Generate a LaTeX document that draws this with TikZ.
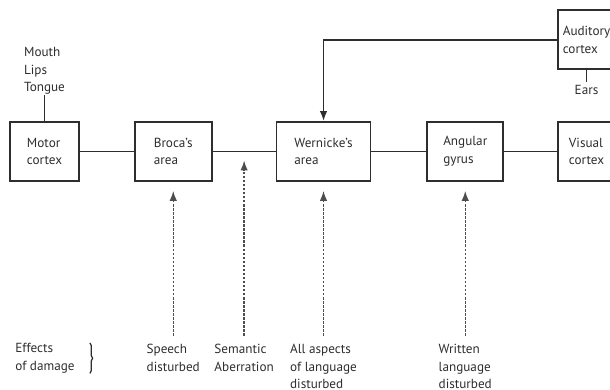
\documentclass[tikz,border=0pt]{standalone}
\usepackage{fontspec}
\setmainfont{PT Sans}
\usepackage{tikz}
\usetikzlibrary{arrows.meta,positioning,decorations.pathreplacing}
\definecolor{brainink}{HTML}{2E2E2E}

\begin{document}
\begin{tikzpicture}[font=\fontsize{7.5}{10}\selectfont, text=brainink,
    area/.style={draw=brainink, line width=1pt, fill=white,
        align=left, minimum height=1.18cm, inner sep=1pt},
    link/.style={draw=brainink, line width=1pt},
    hit/.style={draw=brainink!85, line width=0.8pt,
        dash pattern=on 1.4pt off 0.9pt,
        -{Latex[length=2mm,width=1.5mm]}},
    effect/.style={align=left, anchor=north, inner sep=0pt}]
    \useasboundingbox (0,0) rectangle (12.2,-7.8);
    \node[area, minimum width=1.38cm] (motor) at (0.89,-3.03) {Motor\\cortex};
    \node[area, minimum width=1.54cm, right=1.08cm of motor] (broca) {Broca's\\area};
    \node[area, minimum width=1.88cm, right=1.26cm of broca] (wern) {Wernicke's\\area};
    \node[area, minimum width=1.52cm, right=1.1cm of wern] (ang) {Angular\\gyrus};
    \node[area, minimum width=1.14cm, right=1.06cm of ang] (vis) {Visual\\cortex};
    \node[area, minimum width=1.14cm, above=1.02cm of vis] (aud) {Auditory\\cortex};

    \node[align=left, inner sep=0pt, above=0.52cm of motor] (mouth) {Mouth\\Lips\\Tongue};
    \node[inner sep=1.5pt, below=0.24cm of aud] (ears) {Ears};

    \draw[link] (mouth) -- (motor);
    \draw[link] (aud) -- (ears);
    \draw[link] (motor) -- (broca) -- (wern) -- (ang) -- (vis);
    \draw[link, -{Latex[length=2mm,width=1.5mm]}] (aud.west) -| (wern.north);

    \path (broca.east) -- coordinate[midway] (gap) (wern.west);

    \node[effect, anchor=north west] (dmg) at (0.3,-6.86) {Effects\\of damage};
    \node[effect, below=3.24cm of broca] (speech) {Speech\\disturbed};
    \node[effect] (sem) at (gap |- speech.north) {Semantic\\Aberration};
    \node[effect, below=3.24cm of wern] (allasp) {All aspects\\of language\\disturbed};
    \node[effect, below=3.24cm of ang] (written) {Written\\language\\disturbed};

    \draw[link, line width=0.7pt, decorate, decoration={brace, amplitude=1.5pt}]
        ([xshift=0.3cm]dmg.north east) -- ([xshift=0.3cm]dmg.south east);

    \draw[hit, shorten <=0.16cm, shorten >=0.18cm] (speech) -- (broca);
    \draw[hit, shorten <=0.16cm, shorten >=0.18cm] (sem) -- (gap);
    \draw[hit, shorten <=0.16cm, shorten >=0.18cm] (allasp) -- (wern);
    \draw[hit, shorten <=0.16cm, shorten >=0.18cm] (written) -- (ang);
\end{tikzpicture}
\end{document}
